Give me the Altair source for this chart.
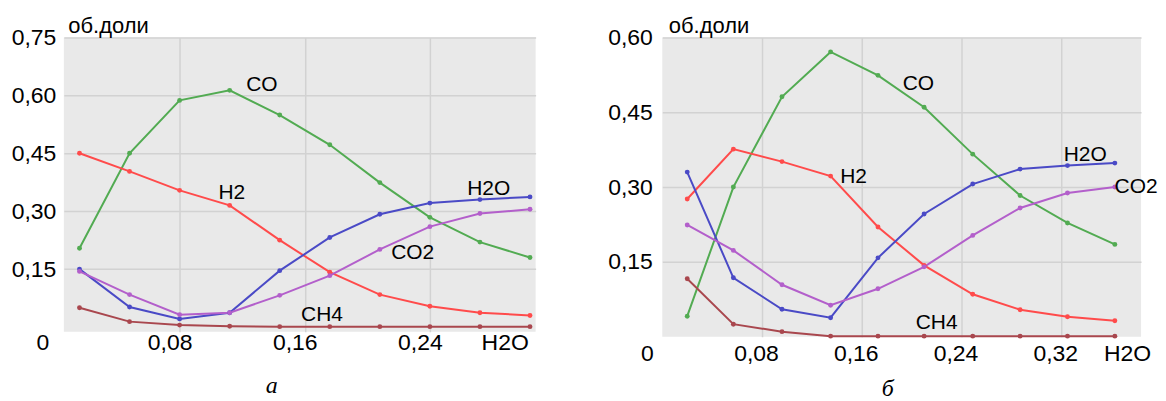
import altair as alt
import pandas as pd

SERIES = ["CO", "H2", "H2O", "CO2", "CH4"]
COLORS = ["#52ab52", "#ff4b4b", "#4a4ac6", "#b35fcb", "#a9474e"]

# ---- panel a ----
XA = [0.016, 0.048, 0.080, 0.112, 0.144, 0.176, 0.208, 0.240, 0.272, 0.304]
A_CO = [0.204, 0.450, 0.587, 0.613, 0.549, 0.472, 0.374, 0.284, 0.220, 0.180]
A_H2 = [0.450, 0.403, 0.354, 0.315, 0.225, 0.142, 0.084, 0.054, 0.037, 0.030]
A_H2O = [0.150, 0.052, 0.021, 0.037, 0.146, 0.232, 0.292, 0.321, 0.330, 0.337]
A_CO2 = [0.144, 0.084, 0.032, 0.037, 0.082, 0.133, 0.201, 0.260, 0.294, 0.305]
A_CH4 = [0.050, 0.014, 0.005, 0.002, 0.001, 0.001, 0.001, 0.001, 0.001, 0.001]

# ---- panel b ----
XB = [0.020, 0.057, 0.096, 0.135, 0.173, 0.210, 0.249, 0.287, 0.325, 0.363]
B_CO = [0.041, 0.300, 0.481, 0.571, 0.524, 0.460, 0.366, 0.283, 0.228, 0.185]
B_H2 = [0.276, 0.376, 0.351, 0.322, 0.220, 0.143, 0.085, 0.054, 0.040, 0.032]
B_H2O = [0.330, 0.118, 0.055, 0.038, 0.158, 0.246, 0.306, 0.336, 0.343, 0.348]
B_CO2 = [0.224, 0.173, 0.104, 0.063, 0.096, 0.140, 0.203, 0.258, 0.288, 0.300]
B_CH4 = [0.116, 0.025, 0.010, 0.001, 0.001, 0.001, 0.001, 0.001, 0.001, 0.001]

XTICKS_A = [0.08, 0.16, 0.24]
XTICKS_B = [0.08, 0.16, 0.24, 0.32]
YTICKS_A = [0.15, 0.30, 0.45, 0.60, 0.75]
YTICKS_B = [0.15, 0.30, 0.45, 0.60]

# series name labels (text, x, y in data units)
LAB_A_TEXT = ["CO", "H2", "H2O", "CO2", "CH4"]
LAB_A_X = [0.1326, 0.1134, 0.2776, 0.229, 0.171]
LAB_A_Y = [0.626, 0.346, 0.357, 0.192, 0.031]
LAB_B_TEXT = ["CO", "H2", "H2O", "CO2", "CH4"]
LAB_B_X = [0.2054, 0.1534, 0.3392, 0.380, 0.22]
LAB_B_Y = [0.506, 0.320, 0.365, 0.300, 0.027]

FMT = "replace(format(datum.value, '.2f'), '.', ',')"


def long_df(x, cols):
    rows = []
    for name, vals in zip(SERIES, cols):
        for xi, yi in zip(x, vals):
            rows.append({"x": xi, "y": yi, "s": name})
    return pd.DataFrame(rows)


def panel(df, xdom, ydom, w, h, xticks, yticks, lt, lx, ly, zero_x,
          caption, xtitle_x, xoff, xpad, ypad, ytitle_x, cap_dx, cap_off):
    xs = alt.Scale(domain=xdom, nice=False, zero=False)
    ys = alt.Scale(domain=ydom, nice=False, zero=False)
    color = alt.Color("s:N", scale=alt.Scale(domain=SERIES, range=COLORS), legend=None)
    xaxis = alt.Axis(
        values=xticks, labelExpr=FMT, grid=True, domain=False, ticks=False,
        tickSize=0, labelPadding=xpad, labelFontSize=23, labelOffset=xoff,
        title="H2O", titleX=xtitle_x, titleY=xpad, titleBaseline="top",
        titleAlign="center", titleFontWeight="normal", titleFontSize=23)
    yaxis = alt.Axis(
        values=yticks, labelExpr=FMT, grid=True, domain=False, ticks=False,
        tickSize=0, labelPadding=ypad, labelFontSize=23,
        title="об.доли", titleAngle=0, titleX=ytitle_x, titleY=-5,
        titleAlign="left", titleBaseline="alphabetic",
        titleFontWeight="normal", titleFontSize=22)
    lines = alt.Chart(df).mark_line(
        strokeWidth=2,
        point=alt.OverlayMarkDef(size=24, filled=True, opacity=1),
    ).encode(
        x=alt.X("x:Q", scale=xs, axis=xaxis, title="H2O"),
        y=alt.Y("y:Q", scale=ys, axis=yaxis, title="об.доли"),
        color=color,
        detail="s:N",
    )
    lab_df = pd.DataFrame({"t": lt, "x": lx, "y": ly})
    labels = alt.Chart(lab_df).mark_text(
        fontSize=21, font="Liberation Sans", color="black"
    ).encode(
        x=alt.X("x:Q", scale=xs, title="H2O"),
        y=alt.Y("y:Q", scale=ys, title="об.доли"),
        text="t:N",
    )
    zero_df = pd.DataFrame({"t": ["0"], "x": [zero_x], "y": [ydom[0]]})
    zero = alt.Chart(zero_df).mark_text(
        fontSize=23, font="Liberation Sans", color="black", baseline="top", dy=xpad
    ).encode(
        x=alt.X("x:Q", scale=xs, title="H2O"),
        y=alt.Y("y:Q", scale=ys, title="об.доли"),
        text="t:N",
    )
    return alt.layer(lines, labels, zero).properties(
        width=w, height=h,
        title=alt.TitleParams(
            text=caption, orient="bottom", font="Liberation Serif",
            fontStyle="italic", fontWeight="normal", fontSize=24,
            color="black", offset=cap_off, dx=cap_dx, anchor="middle"),
    )


dfa = long_df(XA, [A_CO, A_H2, A_H2O, A_CO2, A_CH4])
dfb = long_df(XB, [B_CO, B_H2, B_H2O, B_CO2, B_CH4])

pa = panel(dfa, [0.006, 0.3076], [-0.012, 0.75], 473, 295, XTICKS_A, YTICKS_A,
           LAB_A_TEXT, LAB_A_X, LAB_A_Y, -0.0074, "а", 442, -10, 0, 8, 4, -28, 19)
pb = panel(dfb, [0.0, 0.384], [0.0, 0.6], 480, 300, XTICKS_B, YTICKS_B,
           LAB_B_TEXT, LAB_B_X, LAB_B_Y, -0.012, "б", 466, -6, 6, 10, 6, -14, 11)

chart = alt.hconcat(pa, pb, spacing=72).properties(
    padding={"left": 3, "top": 6, "right": 0, "bottom": 0},
    background="white",
).configure_view(
    fill="#e9e9e9", strokeWidth=0
).configure_axis(
    gridColor="#d2d2d2", gridWidth=1.5, labelColor="black", titleColor="black",
    labelFont="Liberation Sans", titleFont="Liberation Sans"
)

chart.save("out.html", embed_options={"renderer": "svg", "actions": False})
